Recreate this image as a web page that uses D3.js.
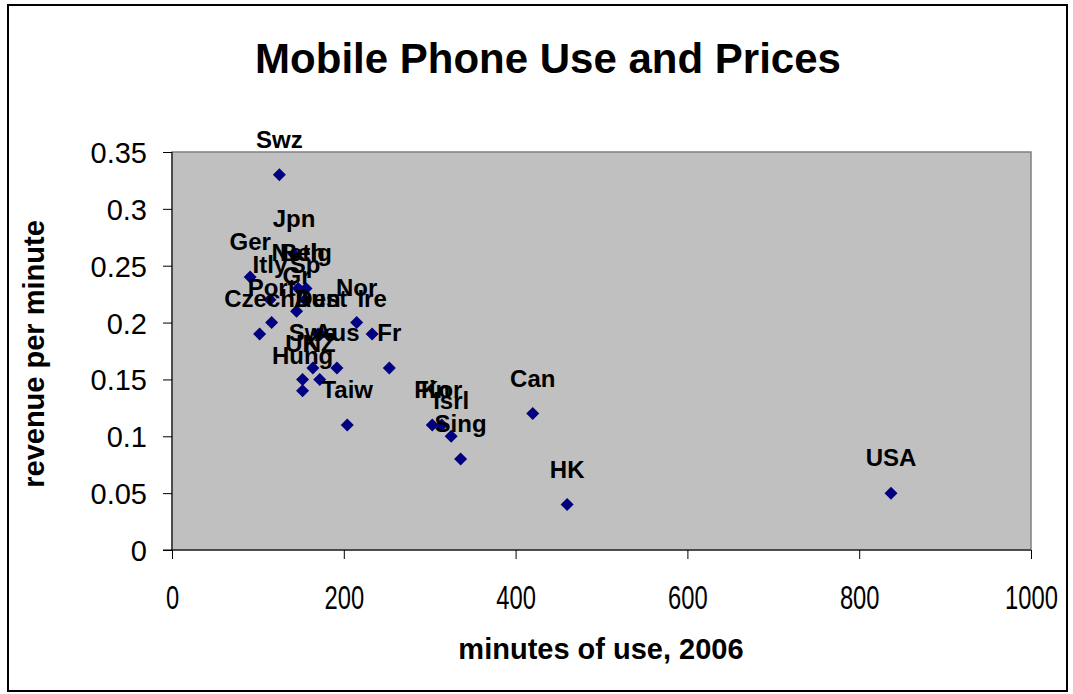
<!DOCTYPE html>
<html>
<head>
<meta charset="utf-8">
<script src="https://cdn.jsdelivr.net/npm/d3@7.9.0/dist/d3.min.js"></script>
<style>
  body { margin: 0; background: #fff; }
  text { font-family: "Liberation Sans", Arial, sans-serif; }
</style>
</head>
<body>
<svg id="chart" width="1073" height="694"></svg>
<script>
const countries = ["Swz", "Jpn", "Ger", "Neth", "Belg", "Itly", "Sp", "Gr", "Port", "Nor",
  "Czech", "Den", "Aust", "Ire", "Swe", "Aus", "Fr", "UK", "NZ", "Hung",
  "Taiw", "Fin", "Kor", "Isrl", "Sing", "Can", "HK", "USA"];
const minutes = [125, 142, 91, 147, 156, 114, 155, 145, 116, 215,
  102, 170, 173, 233, 164, 192, 253, 152, 172, 152,
  204, 303, 314, 325, 336, 420, 460, 837];
const revenue = [0.33, 0.26, 0.24, 0.23, 0.23, 0.22, 0.22, 0.21, 0.20, 0.20,
  0.19, 0.19, 0.19, 0.19, 0.16, 0.16, 0.16, 0.15, 0.15, 0.14,
  0.11, 0.11, 0.11, 0.10, 0.08, 0.12, 0.04, 0.05];
const xTicks = [0, 200, 400, 600, 800, 1000];
const yTicks = [0, 0.05, 0.1, 0.15, 0.2, 0.25, 0.3, 0.35];

const data = countries.map((c, i) => ({ name: c, x: minutes[i], y: revenue[i] }));

const svg = d3.select("#chart");
const plot = { left: 172, right: 1031, top: 152, bottom: 550 };

// outer frame
svg.append("rect")
  .attr("x", 8).attr("y", 5)
  .attr("width", 1059).attr("height", 686)
  .attr("fill", "#fff")
  .attr("stroke", "#000")
  .attr("stroke-width", 2);

const xScale = d3.scaleLinear().domain([0, 1000]).range([plot.left, plot.right]);
const yScale = d3.scaleLinear().domain([0, 0.35]).range([plot.bottom, plot.top]);

svg.append("rect")
  .attr("x", plot.left).attr("y", plot.top)
  .attr("width", plot.right - plot.left)
  .attr("height", plot.bottom - plot.top)
  .attr("fill", "#c0c0c0")
  .attr("stroke", "#808080")
  .attr("stroke-width", 1.5);

const xAxis = d3.axisBottom(xScale).tickValues(xTicks).tickSize(9).tickFormat(d3.format("d"));
const yAxis = d3.axisLeft(yScale).tickValues(yTicks).tickSize(9).tickPadding(16).tickFormat(d => d === 0 ? "0" : String(d));

const gx = svg.append("g")
  .attr("transform", `translate(0, ${plot.bottom})`)
  .call(xAxis);
gx.select(".domain").attr("stroke", "#000").attr("d", `M${plot.left - 9},0H${plot.right}`);
gx.selectAll(".tick line").attr("stroke", "#000");
// the x labels in the reference are tall and narrow
gx.selectAll("text")
  .style("font-family", "'Liberation Sans', Arial, sans-serif")
  .style("font-size", "34px")
  .attr("y", 59)
  .attr("dy", 0)
  .attr("textLength", d => String(d).length * 13.2)
  .attr("lengthAdjust", "spacingAndGlyphs")
  .attr("fill", "#000");

const gy = svg.append("g")
  .attr("transform", `translate(${plot.left}, 0)`)
  .call(yAxis);
gy.select(".domain").attr("stroke", "#000").attr("d", `M0,${plot.top}V${plot.bottom}`);
gy.selectAll(".tick line").attr("stroke", "#000");
gy.selectAll("text")
  .style("font-family", "'Liberation Sans', Arial, sans-serif")
  .style("font-size", "29px")
  .attr("dy", "0.36em")
  .attr("fill", "#000");

// diamonds
svg.append("g")
  .selectAll("path")
  .data(data)
  .join("path")
  .attr("transform", d => `translate(${xScale(d.x)}, ${yScale(d.y)})`)
  .attr("d", "M0,-6.5L6.5,0L0,6.5L-6.5,0Z")
  .attr("fill", "#000080");

// point labels
svg.append("g")
  .selectAll("text")
  .data(data)
  .join("text")
  .attr("x", d => xScale(d.x))
  .attr("y", d => yScale(d.y) - 27)
  .attr("text-anchor", "middle")
  .style("font-size", "24px")
  .style("font-weight", "bold")
  .attr("fill", "#000")
  .text(d => d.name);

// title
svg.append("text")
  .attr("x", 548).attr("y", 73)
  .attr("text-anchor", "middle")
  .style("font-size", "42px")
  .style("font-weight", "bold")
  .text("Mobile Phone Use and Prices");

svg.append("text")
  .attr("x", 601).attr("y", 659)
  .attr("text-anchor", "middle")
  .style("font-size", "29px")
  .style("font-weight", "bold")
  .text("minutes of use, 2006");

svg.append("text")
  .attr("transform", "rotate(-90)")
  .attr("x", -354).attr("y", 44)
  .attr("text-anchor", "middle")
  .style("font-size", "29px")
  .style("font-weight", "bold")
  .text("revenue per minute");
</script>
</body>
</html>
